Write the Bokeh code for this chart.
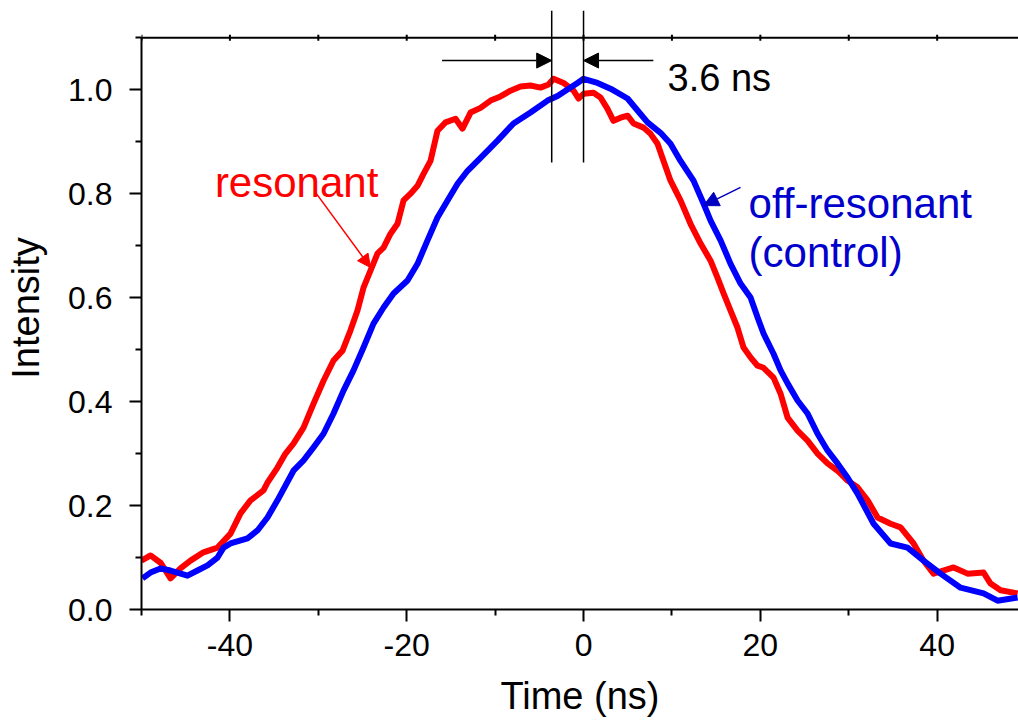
from bokeh.plotting import figure
from bokeh.models import Range1d, FixedTicker, Arrow, NormalHead, Label, Span
from bokeh.embed import file_html
from bokeh.resources import INLINE

# resonant (red) trace: time (ns), intensity
time_res = [-50.0, -48.98, -47.85, -46.72, -45.59, -44.46, -42.99, -41.40, -39.93, -38.80,
            -37.67, -36.20, -35.75, -34.62, -33.71, -32.81, -31.67, -30.54, -29.41, -28.28,
            -27.26, -26.36, -25.57, -24.89, -24.10, -23.30, -22.62, -21.83, -21.04, -20.36,
            -19.57, -18.78, -18.10, -17.31, -16.52, -15.61, -14.48, -13.69, -12.78, -11.65,
            -10.52, -9.39, -8.26, -7.13, -6.00, -4.86, -3.96, -3.39, -2.26, -1.13,
            -0.57, 0.00, 1.13, 1.92, 2.71, 3.39, 4.19, 4.98, 5.66, 6.79,
            7.58, 8.37, 9.05, 9.84, 10.97, 12.10, 13.24, 14.37, 15.16, 15.84,
            16.63, 17.42, 18.10, 18.89, 19.68, 20.36, 21.49, 22.29, 23.08, 24.21,
            25.34, 26.47, 27.60, 28.73, 29.86, 30.99, 32.13, 33.26, 34.73, 35.86,
            37.33, 38.46, 39.59, 41.86, 43.44, 45.25, 46.04, 47.17, 49.10]
int_res = [0.094, 0.104, 0.090, 0.060, 0.079, 0.094, 0.110, 0.119, 0.146, 0.185,
           0.210, 0.229, 0.244, 0.273, 0.300, 0.319, 0.350, 0.396, 0.440, 0.479,
           0.498, 0.537, 0.575, 0.619, 0.652, 0.685, 0.696, 0.723, 0.742, 0.787,
           0.800, 0.815, 0.838, 0.863, 0.921, 0.937, 0.944, 0.925, 0.956, 0.965,
           0.979, 0.987, 0.998, 1.006, 1.008, 1.004, 1.010, 1.021, 1.013, 0.998,
           0.983, 0.992, 0.994, 0.985, 0.963, 0.940, 0.946, 0.950, 0.935, 0.927,
           0.915, 0.896, 0.863, 0.825, 0.787, 0.742, 0.704, 0.671, 0.638, 0.608,
           0.575, 0.542, 0.504, 0.485, 0.469, 0.465, 0.446, 0.415, 0.369, 0.344,
           0.325, 0.300, 0.281, 0.267, 0.248, 0.235, 0.210, 0.177, 0.165, 0.158,
           0.127, 0.094, 0.069, 0.081, 0.069, 0.071, 0.050, 0.037, 0.031]

# off-resonant control (blue) trace
time_off = [-49.89, -48.98, -47.85, -46.72, -44.80, -43.67, -42.53, -41.40, -40.72, -39.93,
            -38.01, -36.88, -35.75, -34.62, -32.81, -31.67, -30.54, -29.41, -28.28, -27.15,
            -26.02, -24.89, -23.76, -22.62, -21.49, -19.91, -18.78, -17.65, -16.52, -15.38,
            -14.25, -13.12, -11.65, -9.73, -7.92, -6.00, -4.07, -2.94, -1.47, -0.68,
            0.00, 1.58, 3.05, 4.98, 6.11, 7.24, 8.71, 9.84, 10.97, 12.44,
            13.57, 14.37, 15.50, 16.63, 17.76, 18.89, 19.68, 20.36, 21.49, 22.29,
            23.08, 24.21, 25.34, 26.47, 27.60, 28.73, 29.86, 30.99, 32.81, 34.73,
            36.65, 38.46, 40.38, 42.65, 45.25, 46.83, 49.10]
int_off = [0.060, 0.071, 0.079, 0.075, 0.065, 0.075, 0.085, 0.100, 0.119, 0.127,
           0.137, 0.152, 0.177, 0.210, 0.267, 0.287, 0.312, 0.338, 0.377, 0.421,
           0.460, 0.504, 0.550, 0.581, 0.608, 0.633, 0.665, 0.710, 0.754, 0.787,
           0.819, 0.844, 0.869, 0.902, 0.935, 0.956, 0.979, 0.988, 1.004, 1.013,
           1.021, 1.013, 1.002, 0.983, 0.960, 0.937, 0.917, 0.896, 0.863, 0.825,
           0.781, 0.748, 0.710, 0.665, 0.627, 0.600, 0.562, 0.531, 0.492, 0.460,
           0.435, 0.402, 0.377, 0.338, 0.306, 0.281, 0.254, 0.223, 0.165, 0.127,
           0.119, 0.094, 0.069, 0.042, 0.031, 0.017, 0.023]

x_major = [-40, -20, 0, 20, 40]
x_major_labels = ["-40", "-20", "0", "20", "40"]
x_minor = [-50, -30, -10, 10, 30]
x_top = [-50, -40, -30, -20, -10, 0, 10, 20, 30, 40]
y_major = [0.0, 0.2, 0.4, 0.6, 0.8, 1.0]
y_major_labels = ["0.0", "0.2", "0.4", "0.6", "0.8", "1.0"]
y_minor = [0.1, 0.3, 0.5, 0.7, 0.9, 1.1]
y_axis_top = 1.1

shift_left = -3.6
shift_right = 0.0

FONT = "Liberation Sans"
FRAME_H = 603
Y_TOP = 1.16
PX_PER_Y = FRAME_H / Y_TOP

p = figure(frame_width=877, frame_height=FRAME_H,
           x_range=Range1d(-50, 49.2), y_range=Range1d(0, Y_TOP),
           output_backend="svg", toolbar_location=None,
           min_border_left=141, min_border_right=0, min_border_top=6, min_border_bottom=110,
           x_axis_label="Time (ns)", y_axis_label="Intensity")
p.grid.visible = False
p.outline_line_color = None
p.background_fill_color = "white"

for ax in (p.xaxis[0], p.yaxis[0]):
    ax.axis_line_width = 2
    ax.major_tick_line_width = 2
    ax.minor_tick_line_width = 2
    ax.major_tick_in = 0
    ax.minor_tick_in = 0
    ax.major_tick_out = 12
    ax.minor_tick_out = 6
    ax.major_label_text_font = FONT
    ax.major_label_text_font_size = "32px"
    ax.major_label_text_color = "black"
    ax.axis_label_text_font = FONT
    ax.axis_label_text_font_size = "38px"
    ax.axis_label_text_font_style = "normal"
    ax.axis_label_text_color = "black"

p.xaxis[0].ticker = FixedTicker(ticks=x_major, minor_ticks=x_minor)
p.xaxis[0].major_label_overrides = {v: s for v, s in zip(x_major, x_major_labels)}
p.xaxis[0].major_label_standoff = 12
p.xaxis[0].axis_label_standoff = 16

p.yaxis[0].ticker = FixedTicker(ticks=y_major, minor_ticks=y_minor)
p.yaxis[0].major_label_overrides = {v: s for v, s in zip(y_major, y_major_labels)}
p.yaxis[0].major_label_standoff = 17
p.yaxis[0].axis_label_standoff = 18
p.yaxis[0].bounds = (0, y_axis_top)

# top frame edge with small ticks
p.add_layout(Span(location=y_axis_top, dimension="width", line_color="black", line_width=2))
tick_half = 3 / PX_PER_Y
p.segment(x0=x_top, x1=x_top, y0=[y_axis_top - tick_half] * len(x_top),
          y1=[y_axis_top + tick_half] * len(x_top), line_color="black", line_width=2)

p.line(time_res, int_res, line_color="#FF0000", line_width=6, line_join="round")
p.line(time_off, int_off, line_color="#0000FF", line_width=6, line_join="round")

# shift markers
for xv in (shift_left, shift_right):
    p.add_layout(Arrow(x_start=xv, y_start=0.86, x_end=xv, y_end=1.152,
                       start=None, end=None, line_color="black", line_width=1.5))
p.add_layout(Arrow(x_start=-16.0, y_start=1.056, x_end=shift_left, y_end=1.056,
                   end=NormalHead(size=15, fill_color="black", line_color="black"),
                   line_color="black", line_width=1.5))
p.add_layout(Arrow(x_start=7.9, y_start=1.056, x_end=shift_right, y_end=1.056,
                   end=NormalHead(size=15, fill_color="black", line_color="black"),
                   line_color="black", line_width=1.5))
p.add_layout(Label(x=9.5, y=1.023, text="3.6 ns", text_font=FONT, text_font_size="38px",
                   text_color="black", text_baseline="alphabetic"))

# series labels
p.add_layout(Label(x=-41.7, y=0.821, text="resonant", text_font=FONT, text_font_size="42px",
                   text_color="#FF0000", text_baseline="alphabetic"))
p.add_layout(Arrow(x_start=-30.3, y_start=0.802, x_end=-24.1, y_end=0.658,
                   end=NormalHead(size=13, fill_color="#FF0000", line_color="#FF0000"),
                   line_color="#FF0000", line_width=1.5))

p.add_layout(Label(x=18.67, y=0.781, text="off-resonant", text_font=FONT, text_font_size="42px",
                   text_color="#0000CC", text_baseline="alphabetic"))
p.add_layout(Label(x=18.67, y=0.687, text="(control)", text_font=FONT, text_font_size="42px",
                   text_color="#0000CC", text_baseline="alphabetic"))
p.add_layout(Arrow(x_start=17.76, y_start=0.812, x_end=13.57, y_end=0.777,
                   end=NormalHead(size=15, fill_color="#0000C0", line_color="#0000C0"),
                   line_color="#0000C0", line_width=1.5))

open("out.html", "w").write(file_html(p, INLINE))
